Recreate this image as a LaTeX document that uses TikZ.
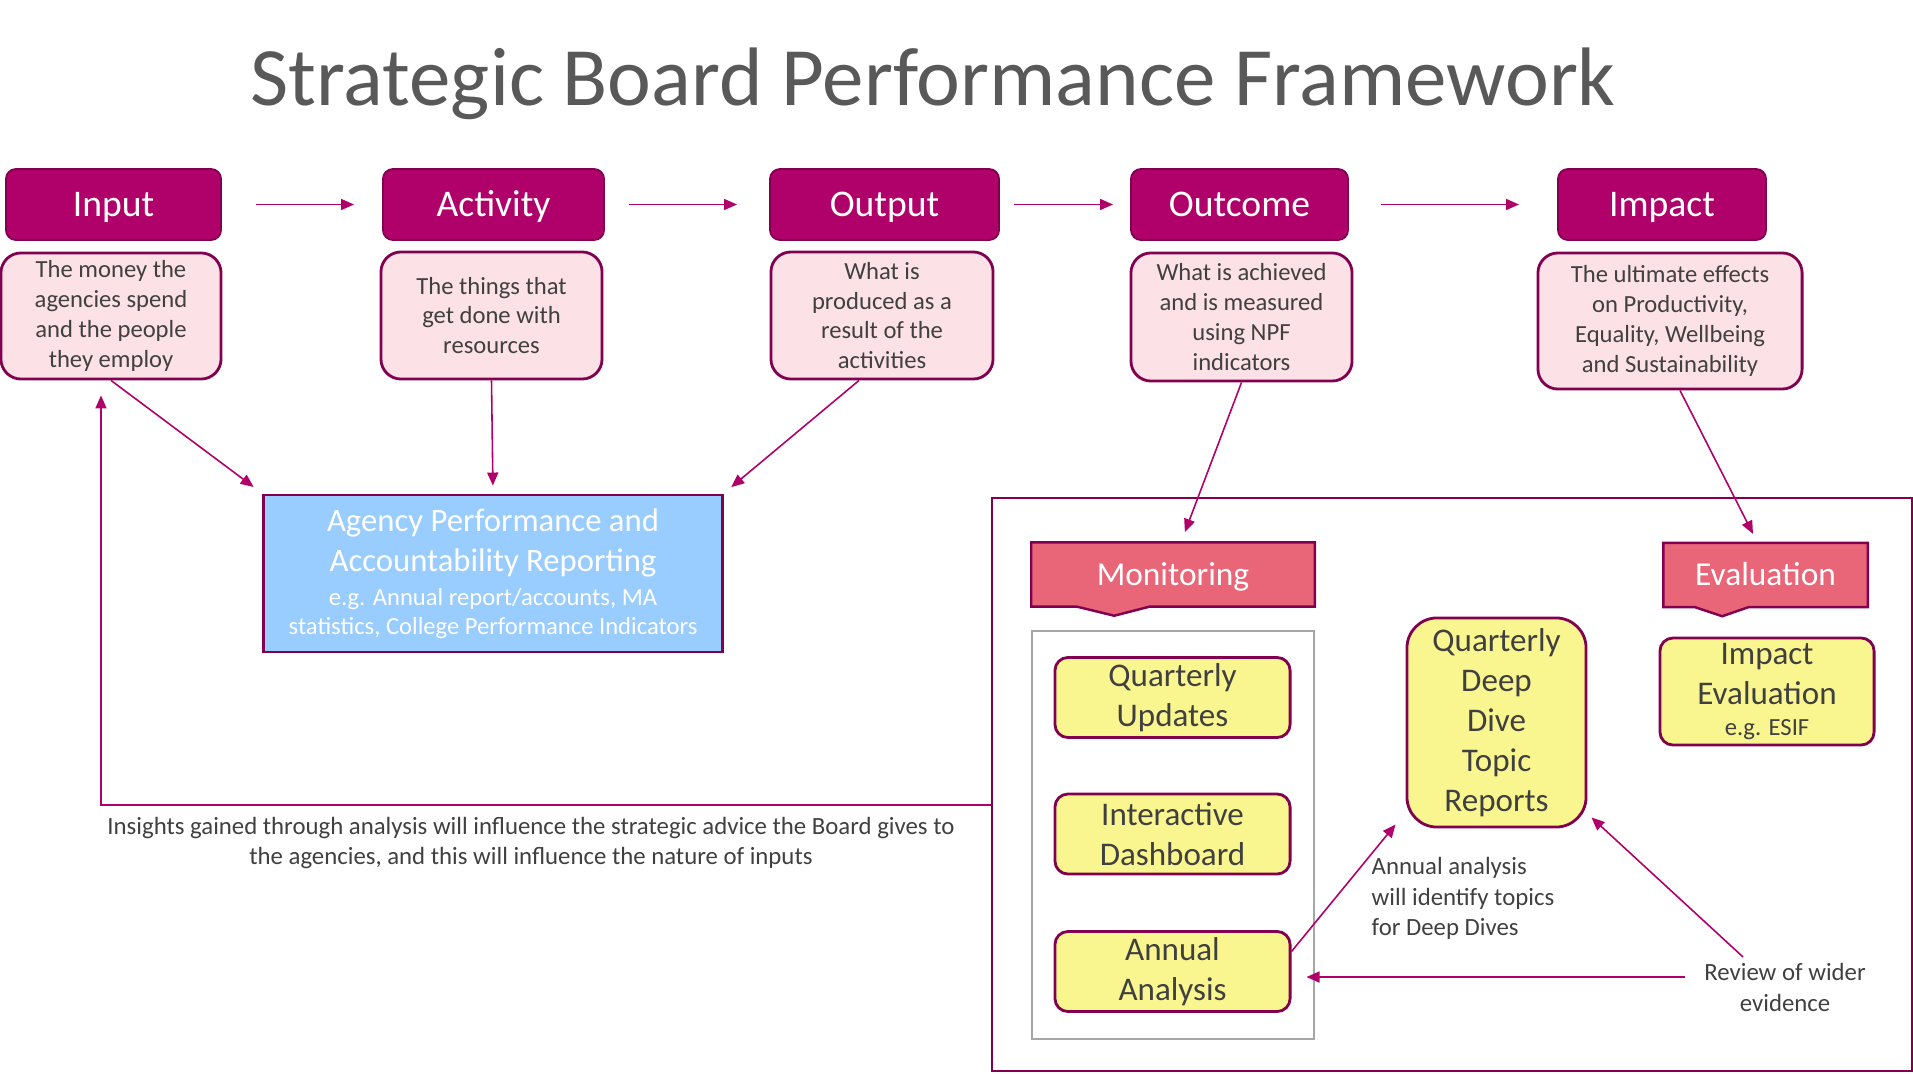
\documentclass[tikz,border=0pt]{standalone}
\usepackage{fontspec}
\setmainfont{Carlito}
\usetikzlibrary{arrows.meta,calc,backgrounds}

\definecolor{plum}{HTML}{B0006A}
\definecolor{plumdark}{HTML}{820050}
\definecolor{blush}{HTML}{FCE1E6}
\definecolor{sky}{HTML}{99CCFF}
\definecolor{coral}{HTML}{E96678}
\definecolor{lemon}{HTML}{F9F58F}
\definecolor{ink}{HTML}{404040}
\definecolor{titlegray}{HTML}{595959}
\definecolor{boxgray}{HTML}{A6A6A6}

\newcommand{\setfs}[2]{\fontsize{#1}{#2}\selectfont}

\begin{document}
\begin{tikzpicture}[x=0.01cm, y=-0.01cm,
	head/.style={ rectangle, rounded corners=0.1cm, draw=plumdark, line width=0.5pt, fill=plum, text=white, inner sep=0pt, minimum height=0.71cm, text height=6.9pt, text depth=0pt, font=\setfs{10.7}{13} },
	desc/.style={ rectangle, rounded corners=0.2cm, draw=plumdark, line width=0.8pt, fill=blush, text=ink, align=center, inner sep=0pt, font=\setfs{7}{8.5} },
	report/.style={ rectangle, draw=plumdark, line width=0.8pt, fill=sky, text=white, align=center, inner sep=0pt, minimum width=4.58cm, minimum height=1.57cm, font=\setfs{9.3}{11.4} },
	bantext/.style={ rectangle, inner sep=0pt, minimum height=0.63cm, text height=6.1pt, text depth=0pt, text=white, font=\setfs{9.5}{11} },
	banner/.style={ draw=plumdark, line width=0.7pt, fill=coral },
	tool/.style={ rectangle, rounded corners=0.13cm, draw=plumdark, line width=0.8pt, fill=lemon, text=ink, align=center, inner sep=0pt, minimum width=2.35cm, minimum height=0.8cm, font=\setfs{9.4}{11.4} },
	note/.style={ text=ink, inner sep=0pt, font=\setfs{7.05}{8.6} },
	flow/.style={ draw=plum, line width=0.45pt, -{Triangle[length=1.3mm,width=1.1mm]} }
]
\begin{scope}[on background layer]
\fill[white] (0,0) rectangle (1913,1073);
\end{scope}
\useasboundingbox (0,0) rectangle (1913,1073);

\node at (933,106) (title) [anchor=base, text=titlegray, font=\setfs{23.6}{28}] {Strategic Board Performance Framework};

% logic chain
\node at (113.5,204.5) (inp) [head, minimum width=2.15cm] {Input};
\node at (493.5,204.5) (act) [head, minimum width=2.21cm] {Activity};
\node at (884.5,204.5) (out) [head, minimum width=2.29cm] {Output};
\node at (1239.5,204.5) (outc) [head, minimum width=2.17cm] {Outcome};
\node at (1662,204.5) (imp) [head, minimum width=2.08cm] {Impact};
\foreach \a/\b/\s/\e in {inp/act/0.34/0.28, act/out/0.24/0.32, out/outc/0.14/0.17, outc/imp/0.32/0.38}
	\draw[flow, shorten <=\s cm, shorten >=\e cm] (\a) -- (\b);

\node at (111,316) (indesc) [desc, minimum width=2.2cm, minimum height=1.26cm] {The money the\\agencies spend\\and the people\\they employ};
\node at (491.5,315.5) (actdesc) [desc, minimum width=2.21cm, minimum height=1.27cm] {The things that\\get done with\\resources};
\node at (882,315.5) (outdesc) [desc, minimum width=2.22cm, minimum height=1.27cm] {What is\\produced as a\\result of the\\activities};
\node at (1241.5,317) (outcdesc) [desc, minimum width=2.21cm, minimum height=1.28cm] {What is achieved\\and is measured\\using NPF\\indicators};
\node at (1670,321) (impdesc) [desc, minimum width=2.64cm, minimum height=1.36cm] {The ultimate effects\\on Productivity,\\Equality, Wellbeing\\and Sustainability};

% agency reporting
\node at (493,573.5) (agency) [report] {Agency Performance and\\Accountability Reporting\\[-1.8pt]\setfs{7}{8.3}e.g. Annual report/accounts, MA\\[-3.1pt]\setfs{7}{8.3}statistics, College Performance Indicators};
\draw[flow, shorten >=0.11cm] (indesc.south) -- (agency.north west);
\draw[flow, shorten >=0.08cm] (actdesc.south) -- (agency.north);
\draw[flow, shorten >=0.1cm] ($(outdesc.south)+(-23,0)$) -- (agency.north east);

% monitoring and evaluation
\node at (1452,784.5) (frame) [draw=plumdark, line width=0.7pt, minimum width=9.2cm, minimum height=5.73cm, inner sep=0pt] {};
\node at (1173,835) (mongrp) [draw=boxgray, line width=0.6pt, minimum width=2.82cm, minimum height=4.08cm, inner sep=0pt] {};

\node at (1173,574.5) (moni) [bantext, minimum width=2.82cm] {Monitoring};
\node at (1765.5,575) (evalu) [bantext, minimum width=2.03cm] {Evaluation};
\begin{scope}[on background layer]
\draw[banner] (moni.north west) -- (moni.north east) -- (moni.south east) -- ($(moni.south west)+(118,0)$) -- ($(moni.south west)+(83,9)$) -- ($(moni.south west)+(46,0)$) -- (moni.south west) -- cycle;
\draw[banner] (evalu.north west) -- (evalu.north east) -- (evalu.south east) -- ($(evalu.south west)+(85,0)$) -- ($(evalu.south west)+(59,9)$) -- ($(evalu.south west)+(32,0)$) -- (evalu.south west) -- cycle;
\end{scope}
\draw[flow, shorten >=0.11cm] (outcdesc.south) -- ($(moni.north)+(8,0)$);
\draw[flow, shorten >=0.1cm] ($(impdesc.south)+(10,0)$) -- ($(evalu.north)+(-8,0)$);

\node at (1172.5,697.5) (qupd) [tool] {Quarterly\\Updates};
\node at (1172.5,834) (dash) [tool] {Interactive\\Dashboard};
\node at (1172.5,971.5) (annual) [tool] {Annual\\Analysis};
\node at (1496.5,722.5) (deep) [tool, minimum width=1.79cm, minimum height=2.09cm, rounded corners=0.3cm] {Quarterly\\Deep\\Dive\\Topic\\Reports};
\node at (1767,691.5) (impev) [tool, minimum width=2.14cm, minimum height=1.07cm] {Impact\\Evaluation\\[-2.8pt]\setfs{7}{8}e.g. ESIF};

\node at (1371,898.5) (annote) [note, anchor=west, align=left] {Annual analysis\\will identify topics\\for Deep Dives};
\node at (1785,987.5) (review) [note, align=center] {Review of wider\\evidence};
\coordinate (revleft) at (1685,977);
\draw[flow] ($(annual.east)+(0,-20)$) -- ($(deep.south west)+(-10,-4)$);
\draw[flow] ($(review.north)+(-42,-6)$) -- ($(deep.south east)+(4,-11)$);
\draw[flow, shorten >=0.15cm] (revleft) -- (revleft -| annual.east);

% feedback to inputs
\node at (531,843) (fbnote) [note, align=center] {Insights gained through analysis will influence the strategic advice the Board gives to\\the agencies, and this will influence the nature of inputs};
\coordinate (fbcorner) at (101,805);
\draw[flow, shorten >=0.15cm] (frame.west |- fbcorner) -- (fbcorner) -- (fbcorner |- indesc.south);

\end{tikzpicture}
\end{document}
